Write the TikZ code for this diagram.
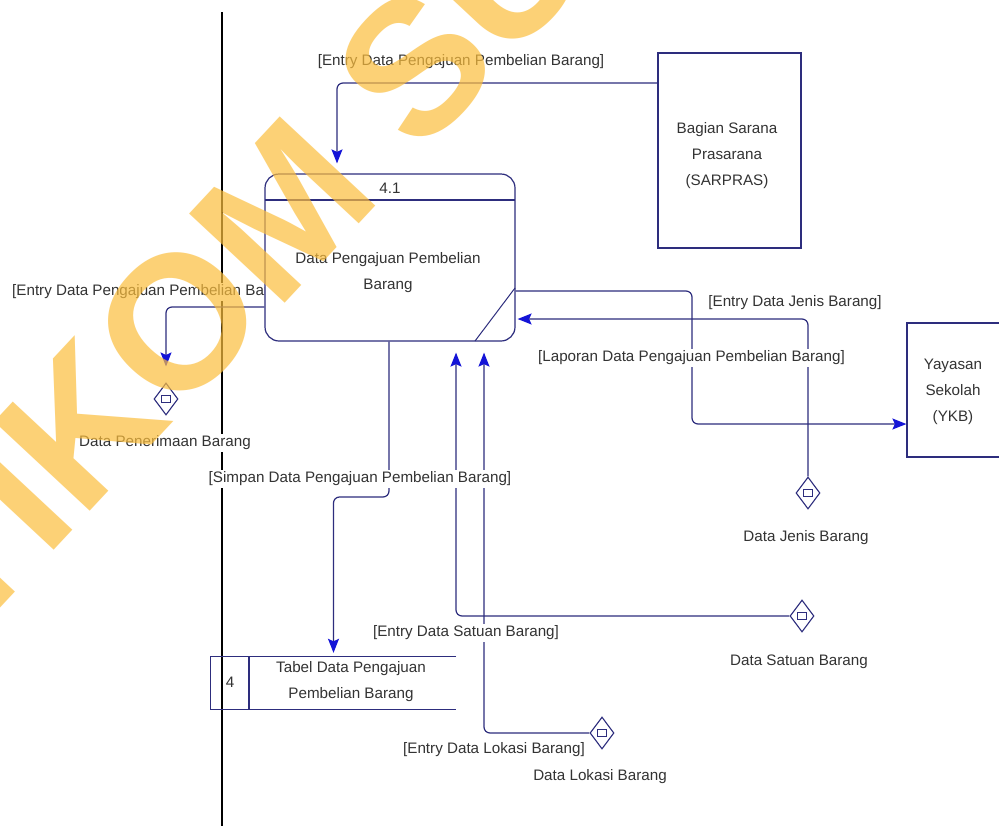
\documentclass[tikz,border=0pt]{standalone}
\usepackage{fontspec}
\setmainfont{Liberation Sans}
\usetikzlibrary{arrows.meta,shapes.geometric}
\definecolor{navy}{RGB}{45,45,125}
\definecolor{arrowblue}{RGB}{20,20,215}
\definecolor{wm}{RGB}{252,190,60}
\begin{document}
\begin{tikzpicture}[x=1pt,y=-1pt,
  every node/.style={font=\fontsize{15.2}{26}\selectfont, text=black!80},
  flow/.style={draw=navy, line width=1.2pt, rounded corners=6pt},
  arr/.style={-{Stealth[length=14pt,width=11pt,inset=2.5pt,color=arrowblue]}},
  lab/.style={fill=white, inner sep=2pt},
  boxent/.style={draw=navy, line width=1.2pt, fill=white},
  dstore/.style={diamond, draw=navy, line width=1.1pt, minimum width=24pt, minimum height=32pt, inner sep=0pt, fill=white},
  thin/.style={draw=navy, line width=1.2pt}
]
\useasboundingbox (0,0) rectangle (999,825);
\clip (0,0) rectangle (999,825);
\fill[white] (0,0) rectangle (999,825);

% helper levels
\coordinate (y83) at (0,83);
\coordinate (y307) at (0,307);
\coordinate (y291) at (0,291);
\coordinate (y319) at (0,319);
\coordinate (y424) at (0,424);
\coordinate (c3) at (692,357);
\coordinate (c7) at (360,497);

% swimlane line
\coordinate (lt) at (222,12);
\coordinate (lb) at (222,830);
\draw[black, line width=1.4pt] (lt) -- (lb);

% left label, partly hidden by the process
\node[lab, anchor=west] (l2) at (10,292) {[Entry Data Pengajuan Pembelian Barang]};

% process 4.1
\node[boxent, rounded corners=14pt, minimum width=250pt, minimum height=167pt] (proc) at (390,257.5) {};
\coordinate (pd1) at (265,200);
\coordinate (pd2) at (515,200);
\draw[thin] (pd1) -- (pd2);
\coordinate (pg1) at (515,288);
\coordinate (pg2) at (475,341);
\draw[navy, line width=1pt] (pg1) -- (pg2);
\node (pnum) at (390,188) {4.1};
\node[align=center] (pname) at (388,273) {Data Pengajuan Pembelian\\Barang};

% external entities
\node[boxent, minimum width=143pt, minimum height=195pt] (sar) at (729.5,150.5) {};
\node[align=center] (sartxt) at (727,156) {Bagian Sarana\\Prasarana\\(SARPRAS)};
\node[boxent, minimum width=142pt, minimum height=134pt] (yay) at (978,390) {};
\node[align=center] (yaytxt) at (953,392) {Yayasan\\Sekolah\\(YKB)};

% data store
\node[minimum width=245pt, minimum height=52pt, inner sep=0pt] (store) at (333.5,683) {};
\draw[thin] (store.north east) -- (store.north west) -- (store.south west) -- (store.south east);
\coordinate (sd1) at (249,657);
\coordinate (sd2) at (249,709);
\draw[thin] (sd1) -- (sd2);
\node (snum) at (230,682) {4};
\node[align=center] (sname) at (351,682) {Tabel Data Pengajuan\\Pembelian Barang};

% diamond stores
\node[dstore] (dpen) at (166,399) {};
\node[dstore] (djen) at (808,493) {};
\node[dstore] (dsat) at (802,616) {};
\node[dstore] (dlok) at (602,733) {};
\foreach \d in {dpen,djen,dsat,dlok}
  \draw[navy, line width=1pt] ([shift={(-4.5pt,-3.5pt)}]\d.center) rectangle ([shift={(4.5pt,3.5pt)}]\d.center);

% flows
\draw[flow, arr, shorten >=10pt] (sar.west |- y83) -| ([xshift=-53pt]proc.north);
\draw[flow, arr, shorten >=16pt] (proc.west |- y307) -| (dpen.north);
\draw[flow, arr] (proc.east |- y291) -| (c3) |- (yay.west |- y424);
\draw[flow, arr, shorten >=2pt] (djen.north) |- (proc.east |- y319);
\draw[flow, arr, shorten >=11pt] (dsat.west) -| ([xshift=66pt]proc.south);
\draw[flow, arr, shorten >=11pt] (dlok.west) -| ([xshift=94pt]proc.south);
\draw[flow, arr, shorten >=4pt] ([xshift=-1pt]proc.south) |- (c7) -| (store.north);

% labels
\node[lab] (l1) at (461,62) {[Entry Data Pengajuan Pembelian Barang]};
\node[lab] (l3) at (691.5,358) {[Laporan Data Pengajuan Pembelian Barang]};
\node[lab] (l4) at (795,303) {[Entry Data Jenis Barang]};
\node[lab] (l5) at (466,633) {[Entry Data Satuan Barang]};
\node[lab] (l6) at (494,750) {[Entry Data Lokasi Barang]};
\node[lab] (l7) at (360,479) {[Simpan Data Pengajuan Pembelian Barang]};
\node[lab] (n1) at (165,443) {Data Penerimaan Barang};
\node[lab] (n2) at (806,538) {Data Jenis Barang};
\node[lab] (n3) at (799,662) {Data Satuan Barang};
\node[lab] (n4) at (600,777) {Data Lokasi Barang};

% watermark
\node[anchor=base west, rotate=47, inner sep=0pt, opacity=0.7, text=wm,
      font=\fontsize{190}{190}\selectfont\bfseries] (wmk) at (-120,737) {STIKOM SURABAYA};
\end{tikzpicture}
\end{document}
